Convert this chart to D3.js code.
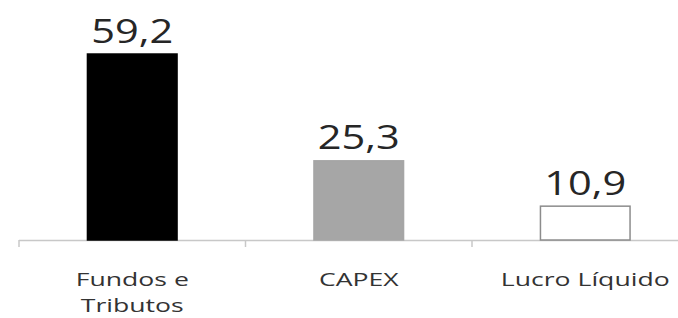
<!DOCTYPE html>
<html lang="pt">
<head>
    <meta charset="UTF-8">
    <script src="https://d3js.org/d3.v7.min.js"></script>
    <title>Chart</title>
    <style>
    body {margin: 0; background: #fff;}
    svg text {font-family: "Open Sans", sans-serif;}
    </style>
</head>
<body>
    <svg></svg>
    <script>

        var categories = [["Fundos e", "Tributos"], ["CAPEX"], ["Lucro Líquido"]];
        var values = [59.2, 25.3, 10.9];
        var valueLabels = ["59,2", "25,3", "10,9"];
        var fills = ["#000000", "#a6a6a6", "#ffffff"];
        var strokes = ["#000000", "#a6a6a6", "#8c8c8c"];

        var W = 678, H = 318;
        var baseY = 240;

        var svg = d3.select("svg").attr("width", W).attr("height", H);

        var keys = categories.map(function(c, i){ return i; });
        var x = d3.scaleBand().domain(keys).range([19, 698.5])
            .paddingInner(0.6).paddingOuter(0.3);
        var y = d3.scaleLinear().domain([0, 60]).range([baseY, baseY - 60 * 3.15]);

        // axis line + ticks on the band edges
        var step = x.step();
        var ax = svg.append("g");
        ax.append("line")
            .attr("x1", 19).attr("x2", 698.5)
            .attr("y1", baseY + 0.5).attr("y2", baseY + 0.5)
            .attr("stroke", "#c8c8c8").attr("stroke-width", 1.5);
        ax.selectAll(".tk").data(d3.range(4)).enter().append("line")
            .attr("x1", function(d){ return 19 + d * step; })
            .attr("x2", function(d){ return 19 + d * step; })
            .attr("y1", baseY).attr("y2", baseY + 7)
            .attr("stroke", "#c8c8c8").attr("stroke-width", 1.5);

        var bars = svg.selectAll(".bar").data(values).enter().append("g");

        bars.append("rect")
            .attr("x", function(d, i){ return x(i) + 0.5; })
            .attr("y", function(d){ return y(d) + 0.5; })
            .attr("width", x.bandwidth() - 1)
            .attr("height", function(d){ return baseY - y(d) - 0.5; })
            .attr("fill", function(d, i){ return fills[i]; })
            .attr("stroke", function(d, i){ return strokes[i]; })
            .attr("stroke-width", 1.5);

        // labels in the picture are a bit stretched sideways
        bars.append("text")
            .attr("transform", function(d, i){
                return "translate(" + (x(i) + x.bandwidth() / 2) + "," + (y(d) - 11) + ") scale(1.26,1)";
            })
            .attr("text-anchor", "middle")
            .attr("font-size", 33)
            .attr("fill", "#262626")
            .text(function(d, i){ return valueLabels[i]; });

        categories.forEach(function(lines, i){
            lines.forEach(function(t, j){
                svg.append("text")
                    .attr("transform", "translate(" + (x(i) + x.bandwidth() / 2) + "," + (286 + j * 26) + ") scale(1.4,1)")
                    .attr("text-anchor", "middle")
                    .attr("font-size", 19)
                    .attr("fill", "#333333")
                    .text(t);
            });
        });

    </script>
</body>
</html>
